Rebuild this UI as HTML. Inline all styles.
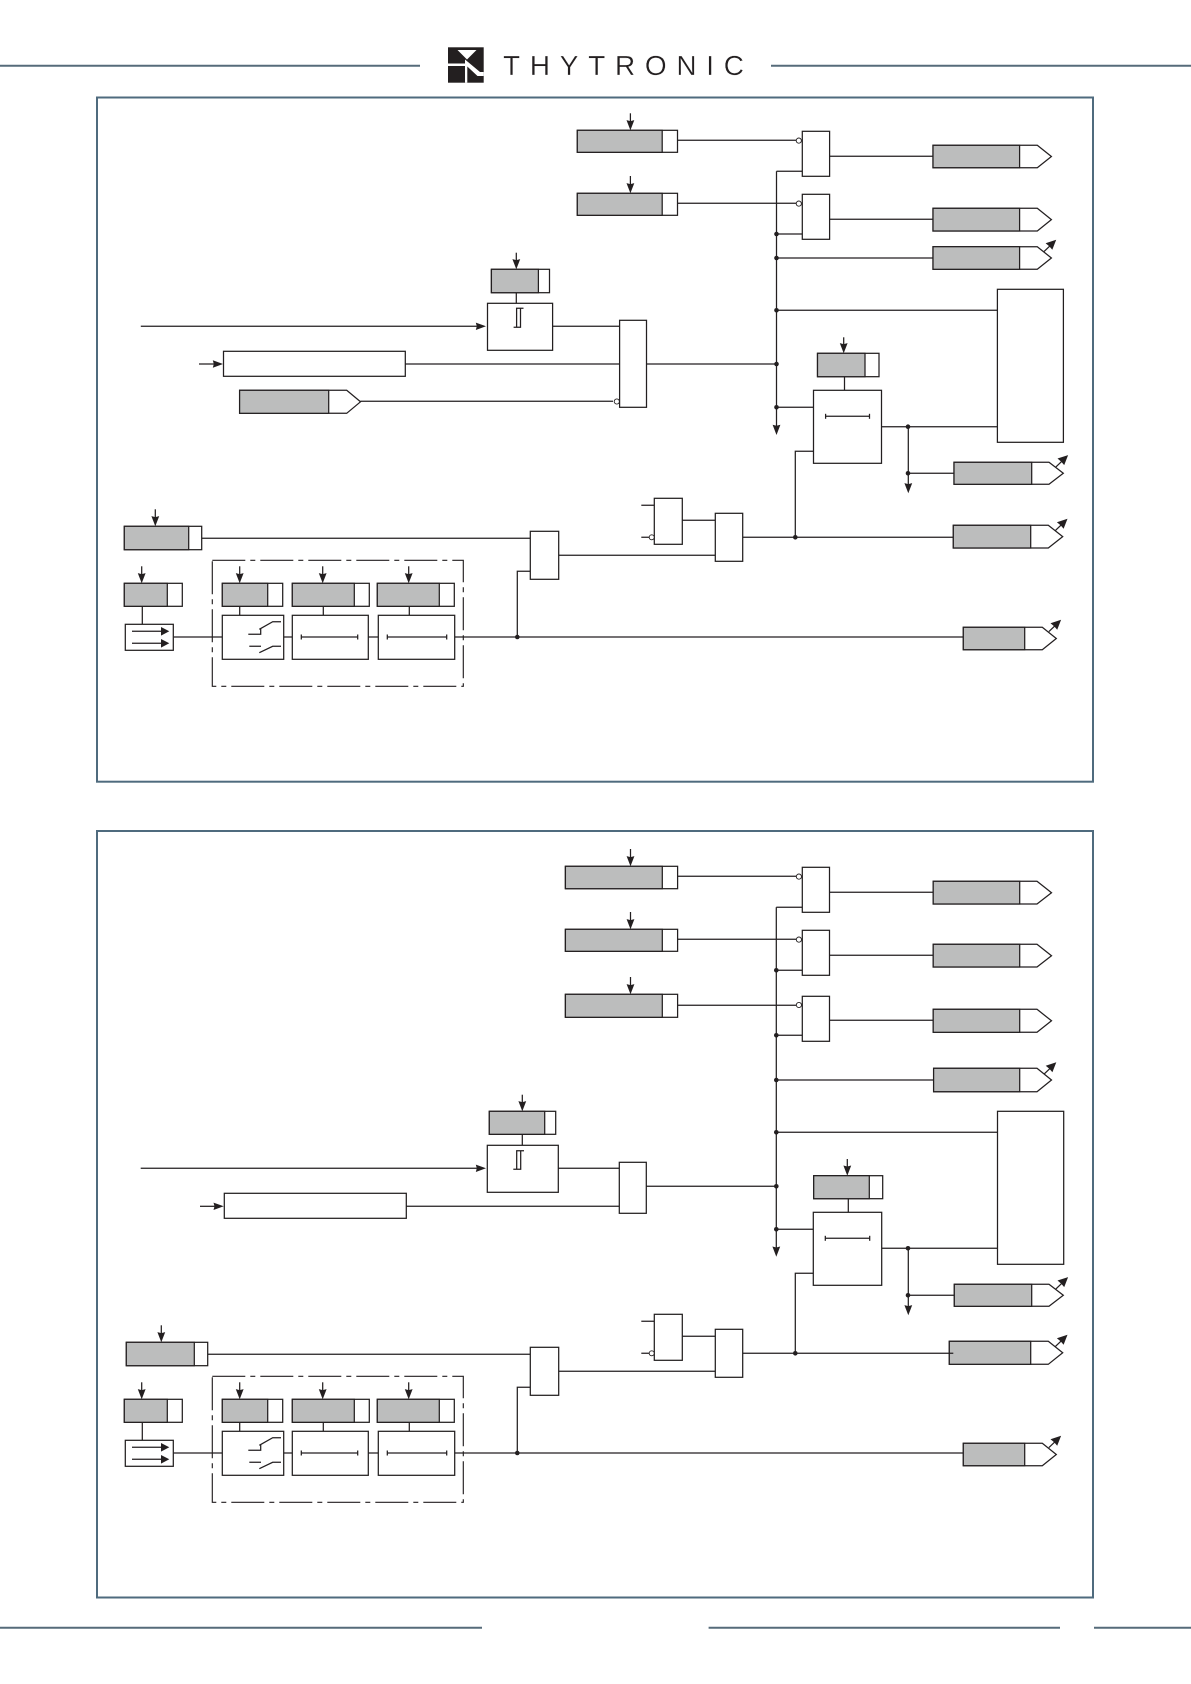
<!DOCTYPE html>
<html><head><meta charset="utf-8"><title>Logic diagram</title>
<style>
html,body{margin:0;padding:0;background:#fff}
svg{display:block}
.l{fill:none;stroke:#231f20;stroke-width:1.25}
.b{fill:#fff;stroke:#231f20;stroke-width:1.25}
.g{fill:#bcbdbd;stroke:#231f20;stroke-width:1.25}
.f{fill:none;stroke:#4f6b7e;stroke-width:2}
.h{fill:none;stroke:#566b7a;stroke-width:2}
.k{fill:#231f20}
.c{fill:#fff;stroke:#231f20;stroke-width:.9}
</style></head><body>
<svg width="1191" height="1684" viewBox="0 0 1191 1684" xmlns="http://www.w3.org/2000/svg">
<defs>
<path id="ad" class="k" d="M0 0L-3.9 -10.2L0 -9.2L3.9 -10.2Z"/>
<path id="ar" class="k" d="M0 0L-10.2 -3.7L-9.2 0L-10.2 3.7Z"/>
<circle id="dot" class="k" r="2.3"/>
<g id="oa"><path class="l" d="M-7.4 -6.4L1 -14.4"/><path class="k" d="M4.8 -18.2L-5.8 -14.8L-2 -11.6L0.9 -8.2Z"/></g>
<path id="cap" class="l" d="M0 -2.5V2.5"/>

<g id="low">
  <!-- main line -->
  <path class="l" d="M173.7 637H963.3"/>
  <path class="l" d="M517.3 637V571.3H530.3"/>
  <use href="#dot" x="517.3" y="637"/>
  <path class="l" d="M558.7 555.3H715.3"/>
  <path class="l" d="M641.3 505.3H654.3M641.3 537.3H650M682.3 520.3H715.3M742.7 537.3H953.3"/>
  <!-- logic gates -->
  <rect class="b" x="530.3" y="531.3" width="28.4" height="48"/>
  <rect class="b" x="654.3" y="498.3" width="28" height="46"/>
  <circle class="c" cx="651.7" cy="537.3" r="2.5"/>
  <rect class="b" x="715.3" y="513.3" width="27.4" height="48"/>
  <use href="#dot" x="795.3" y="537.3"/>
  <!-- final tag -->
  <path class="b" d="M963.3 627.3H1042.3L1056.3 638.5L1042.3 649.7H963.3Z"/>
  <rect class="g" x="963.3" y="627.3" width="61.4" height="22.4"/>
  <use href="#oa" x="1056.3" y="638"/>
  <!-- small register + selector -->
  <path class="l" d="M141.7 566.3V575"/><use href="#ad" x="141.7" y="583.3"/>
  <rect class="b" x="124.3" y="583.3" width="58" height="23"/>
  <rect class="g" x="124.3" y="583.3" width="43" height="23"/>
  <path class="l" d="M142.3 606.3V624.3"/>
  <rect class="b" x="125.3" y="624.3" width="48" height="26"/>
  <path class="l" d="M132 631.3H162M132 643.3H162"/>
  <path class="k" d="M169.3 631.3L161 627V635.6Z"/>
  <path class="k" d="M169.3 643.3L161 639V647.6Z"/>
  <!-- dash-dot frame -->
  <rect x="212.3" y="560.3" width="251" height="126" fill="none" stroke="#231f20" stroke-width="1.15" stroke-dasharray="33 5 5 5"/>
  <!-- reg A -->
  <path class="l" d="M239.7 566.3V575"/><use href="#ad" x="239.7" y="583.3"/>
  <rect class="b" x="222.3" y="583.3" width="60.4" height="23"/>
  <rect class="g" x="222.3" y="583.3" width="45.4" height="23"/>
  <path class="l" d="M239.7 606.3V615.3"/>
  <rect class="b" x="222.3" y="615.3" width="61.4" height="44"/>
  <path class="l" d="M248.3 634.3H260.7V629M259.3 629.3L272.7 621.7H281M249.3 646.3H261M259.3 652.7L272.7 646.3H281"/>
  <!-- reg B -->
  <path class="l" d="M322.7 566.3V575"/><use href="#ad" x="322.7" y="583.3"/>
  <rect class="b" x="292.3" y="583.3" width="77" height="23"/>
  <rect class="g" x="292.3" y="583.3" width="62" height="23"/>
  <path class="l" d="M323.3 606.3V615.3"/>
  <rect class="b" x="292.3" y="615.3" width="76" height="44"/>
  <path class="l" d="M301.3 637H357.7"/><use href="#cap" x="301.3" y="637"/><use href="#cap" x="357.7" y="637"/>
  <!-- reg C -->
  <path class="l" d="M408.7 566.3V575"/><use href="#ad" x="408.7" y="583.3"/>
  <rect class="b" x="377.3" y="583.3" width="77" height="23"/>
  <rect class="g" x="377.3" y="583.3" width="62" height="23"/>
  <path class="l" d="M409.3 606.3V615.3"/>
  <rect class="b" x="378.3" y="615.3" width="76.4" height="44"/>
  <path class="l" d="M387.3 637H446.7"/><use href="#cap" x="387.3" y="637"/><use href="#cap" x="446.7" y="637"/>
</g>
</defs>

<rect width="1191" height="1684" fill="#fff"/>

<!-- header -->
<path class="h" d="M0 65.7H420M771 65.7H1191"/>
<rect x="448" y="47.3" width="35.7" height="35.4" fill="#231f20"/>
<path fill="#fff" d="M457.5 50H476.5L467 59.5Z"/>
<path fill="#fff" d="M448 63.5H465V59.5L480 72H483.7V76H477.5L467.3 66.5V82.7H465V66H448Z"/>
<text x="503" y="75" font-family="'Liberation Sans',sans-serif" font-size="28" fill="#231f20" stroke="#fff" stroke-width=".3" textLength="241" lengthAdjust="spacing">THYTRONIC</text>

<!-- footer -->
<path class="h" d="M0 1627.7H482M708.6 1627.7H1060M1094 1627.7H1191"/>

<!-- frames -->
<rect class="f" x="97" y="97.5" width="996" height="684.2"/>
<rect class="f" x="97" y="831" width="996" height="766.5"/>

<!-- ========== TOP PANEL ========== -->
<!-- bus + wiring -->
<path class="l" d="M776.5 171.3H802.3M776.5 171.3V427"/>
<use href="#ad" x="776.5" y="435"/>
<path class="l" d="M677.5 140.3H796M677.5 203.3H796"/>
<path class="l" d="M776.5 234H802.3M776.5 258H933M776.5 310.3H997.4M646.5 364H776.5M776.5 407.3H813.5"/>
<path class="l" d="M829.6 156.3H933M829.6 219.3H933"/>
<path class="l" d="M881.5 426.7H997.4M908.3 426.7V486M908.3 473.3H954"/>
<use href="#ad" x="908.3" y="493.3"/>
<path class="l" d="M795.3 537.3V451.3H813.3"/>
<!-- dots -->
<use href="#dot" x="776.5" y="234"/><use href="#dot" x="776.5" y="258"/><use href="#dot" x="776.5" y="310.3"/><use href="#dot" x="776.5" y="364"/><use href="#dot" x="776.5" y="407.3"/><use href="#dot" x="908" y="426.7"/><use href="#dot" x="908" y="473.3"/>
<!-- registers -->
<path class="l" d="M630.4 113.3V122"/><use href="#ad" x="630.4" y="130.3"/>
<rect class="b" x="577.3" y="130.3" width="100.2" height="22"/><rect class="g" x="577.3" y="130.3" width="84.9" height="22"/>
<path class="l" d="M630.4 176V185"/><use href="#ad" x="630.4" y="193.3"/>
<rect class="b" x="577.3" y="193.3" width="100.2" height="22"/><rect class="g" x="577.3" y="193.3" width="84.9" height="22"/>
<!-- gates -->
<rect class="b" x="802.3" y="131.3" width="27.3" height="45"/><circle class="c" cx="798.8" cy="140.6" r="2.6"/>
<rect class="b" x="802.3" y="194.3" width="27.3" height="45"/><circle class="c" cx="798.8" cy="203.6" r="2.6"/>
<!-- tags -->
<path class="b" d="M933 145.3H1037.3L1051.4 156.5L1037.3 167.7H933Z"/><rect class="g" x="933" y="145.3" width="86.6" height="22.4"/>
<path class="b" d="M933 208.3H1037.3L1051.4 219.6L1037.3 231H933Z"/><rect class="g" x="933" y="208.3" width="86.6" height="22.7"/>
<path class="b" d="M933 246.7H1037.3L1051.4 258L1037.3 269.3H933Z"/><rect class="g" x="933" y="246.7" width="86.6" height="22.6"/><use href="#oa" x="1051.4" y="258"/>
<!-- big box -->
<rect class="b" x="997.4" y="289.3" width="66" height="153"/>
<!-- hysteresis -->
<path class="l" d="M516.3 252.7V261"/><use href="#ad" x="516.3" y="269.3"/>
<rect class="b" x="491.4" y="269.3" width="58.1" height="23.4"/><rect class="g" x="491.4" y="269.3" width="47" height="23.4"/>
<path class="l" d="M516.3 292.7V303.3"/>
<rect class="b" x="487.5" y="303.3" width="65.1" height="47"/>
<path class="l" d="M513.6 327.3H520.5V308.3H523.5M516.6 327.3V308.3H520.5"/>
<path class="l" d="M140.8 326.3H478"/><use href="#ar" x="486" y="326.3"/>
<path class="l" d="M552.6 326.3H619.6"/>
<!-- wide box -->
<path class="l" d="M199 364H215"/><use href="#ar" x="223" y="364"/>
<rect class="b" x="223.5" y="351.3" width="181.8" height="25"/>
<path class="l" d="M405.3 364H619.6"/>
<!-- left tag -->
<path class="b" d="M239.6 390.3H346.7L360.5 401.8L346.7 413.3H239.6Z"/><rect class="g" x="239.6" y="390.3" width="89.1" height="23"/>
<path class="l" d="M360.5 401.3H613"/>
<circle class="c" cx="616.8" cy="401.5" r="2.6"/>
<rect class="b" x="619.6" y="320.3" width="26.9" height="87"/>
<!-- timer -->
<path class="l" d="M843.7 337.3V345"/><use href="#ad" x="843.7" y="353.3"/>
<rect class="b" x="817.5" y="353.3" width="61.5" height="23.4"/><rect class="g" x="817.5" y="353.3" width="47.5" height="23.4"/>
<path class="l" d="M844.5 376.7V390.3"/>
<rect class="b" x="813.5" y="390.3" width="68" height="73"/>
<path class="l" d="M825.6 416.3H869.5"/><use href="#cap" x="825.6" y="416.3"/><use href="#cap" x="869.5" y="416.3"/>
<!-- tag below timer -->
<path class="b" d="M954 462.3H1049L1063.3 473.3L1049 484.3H954Z"/><rect class="g" x="954" y="462.3" width="77.7" height="22"/><use href="#oa" x="1063.3" y="473.3"/>
<!-- tag 5 -->
<path class="b" d="M953.3 525.3H1048.3L1062.7 536.6L1048.3 548H953.3Z"/><rect class="g" x="953.3" y="525.3" width="77.4" height="22.7"/><use href="#oa" x="1062.7" y="537"/>
<!-- lower left reg -->
<path class="l" d="M201.7 538.3H530.3"/>
<path class="l" d="M155.3 509.3V518"/><use href="#ad" x="155.3" y="526.3"/>
<rect class="b" x="124.3" y="526.3" width="77.4" height="23.4"/><rect class="g" x="124.3" y="526.3" width="64.4" height="23.4"/>
<use href="#low"/>

<!-- ========== BOTTOM PANEL ========== -->
<path class="l" d="M776.3 907.3H802.3M776.3 907.3V1249"/>
<use href="#ad" x="776.3" y="1256.7"/>
<path class="l" d="M677.6 876.3H796M677.6 939.3H796M677.6 1005.3H796"/>
<path class="l" d="M776.3 970.3H802.3M776.3 1035.3H802.3M776.3 1080H933M776.3 1132.3H997.5M646.3 1186.3H776.3M776.3 1229.3H813.3"/>
<path class="l" d="M829.5 892.3H933.2M829.5 955.3H933.2M829.5 1020.3H933.2"/>
<path class="l" d="M881.7 1248.3H997.3M908.3 1248.3V1308M908.3 1295.3H954.3"/>
<use href="#ad" x="908.3" y="1315.3"/>
<path class="l" d="M795.3 1353.3V1273.3H813.3"/>
<use href="#dot" x="776.3" y="970.3"/><use href="#dot" x="776.3" y="1035.3"/><use href="#dot" x="776.3" y="1080"/><use href="#dot" x="776.3" y="1132.3"/><use href="#dot" x="776.3" y="1186.3"/><use href="#dot" x="776.3" y="1229.3"/><use href="#dot" x="908" y="1248.3"/><use href="#dot" x="908" y="1295.3"/>
<!-- registers -->
<path class="l" d="M630.5 849V858"/><use href="#ad" x="630.5" y="866.3"/>
<rect class="b" x="565.4" y="866.3" width="112.2" height="22.4"/><rect class="g" x="565.4" y="866.3" width="96.9" height="22.4"/>
<path class="l" d="M630.5 912V921"/><use href="#ad" x="630.5" y="929.3"/>
<rect class="b" x="565.4" y="929.3" width="112.2" height="22"/><rect class="g" x="565.4" y="929.3" width="96.9" height="22"/>
<path class="l" d="M630.5 977V986"/><use href="#ad" x="630.5" y="994.3"/>
<rect class="b" x="565.4" y="994.3" width="112.2" height="23"/><rect class="g" x="565.4" y="994.3" width="96.9" height="23"/>
<!-- gates -->
<rect class="b" x="802.3" y="867.3" width="27.2" height="45"/><circle class="c" cx="798.9" cy="876.6" r="2.6"/>
<rect class="b" x="802.3" y="930.3" width="27.2" height="45"/><circle class="c" cx="798.9" cy="939.6" r="2.6"/>
<rect class="b" x="802.3" y="996.3" width="27.2" height="45"/><circle class="c" cx="798.9" cy="1005" r="2.6"/>
<!-- tags -->
<path class="b" d="M933.2 881.3H1037L1051.5 892.7L1037 904H933.2Z"/><rect class="g" x="933.2" y="881.3" width="86.5" height="22.7"/>
<path class="b" d="M933.2 944.3H1037L1051.5 955.7L1037 967H933.2Z"/><rect class="g" x="933.2" y="944.3" width="86.5" height="22.7"/>
<path class="b" d="M933.2 1009.3H1037L1051.5 1020.8L1037 1032.3H933.2Z"/><rect class="g" x="933.2" y="1009.3" width="86.5" height="23"/>
<path class="b" d="M933.6 1068.3H1037L1051.5 1080L1037 1091.7H933.6Z"/><rect class="g" x="933.6" y="1068.3" width="86.1" height="23.4"/><use href="#oa" x="1051.5" y="1080.5"/>
<!-- big box -->
<rect class="b" x="997.5" y="1111.3" width="66.2" height="153"/>
<!-- hysteresis -->
<path class="l" d="M522.3 1094.7V1103"/><use href="#ad" x="522.3" y="1111.3"/>
<rect class="b" x="489.3" y="1111.3" width="66.4" height="23"/><rect class="g" x="489.3" y="1111.3" width="55.4" height="23"/>
<path class="l" d="M522.3 1134.3V1145.3"/>
<rect class="b" x="487.3" y="1145.3" width="71" height="47"/>
<path class="l" d="M513.3 1169.3H520.7V1150.7H524M516.7 1169.3V1150.7H520.7"/>
<path class="l" d="M140.7 1168.3H478"/><use href="#ar" x="486" y="1168.3"/>
<path class="l" d="M558.3 1168.3H619.3"/>
<!-- wide box -->
<path class="l" d="M200 1206.3H215"/><use href="#ar" x="223.7" y="1206.3"/>
<rect class="b" x="224.3" y="1193.3" width="182" height="25"/>
<path class="l" d="M406.3 1206.3H619.3"/>
<rect class="b" x="619.3" y="1162.3" width="27" height="51"/>
<!-- timer -->
<path class="l" d="M847.3 1159V1167"/><use href="#ad" x="847.3" y="1175.7"/>
<rect class="b" x="813.7" y="1175.7" width="69" height="23"/><rect class="g" x="813.7" y="1175.7" width="55.6" height="23"/>
<path class="l" d="M848.3 1198.7V1212.3"/>
<rect class="b" x="813.3" y="1212.3" width="68.4" height="73"/>
<path class="l" d="M825.3 1238.3H869.7"/><use href="#cap" x="825.3" y="1238.3"/><use href="#cap" x="869.7" y="1238.3"/>
<!-- tag below timer -->
<path class="b" d="M954.3 1284.3H1049L1063.3 1295.3L1049 1306.3H954.3Z"/><rect class="g" x="954.3" y="1284.3" width="77.4" height="22"/><use href="#oa" x="1063.3" y="1295.3"/>
<!-- tag 5 -->
<path class="b" d="M949.3 1341.3H1048.3L1062.7 1352.7L1048.3 1364.3H949.3Z"/><rect class="g" x="949.3" y="1341.3" width="81.4" height="23"/><use href="#oa" x="1062.7" y="1353"/>
<!-- lower left reg -->
<path class="l" d="M207.7 1354.3H530.3"/>
<path class="l" d="M161.3 1325.3V1334"/><use href="#ad" x="161.3" y="1342.3"/>
<rect class="b" x="126.3" y="1342.3" width="81.4" height="23.4"/><rect class="g" x="126.3" y="1342.3" width="68" height="23.4"/>
<g transform="translate(0 816)"><use href="#low"/></g>
</svg>
</body></html>
